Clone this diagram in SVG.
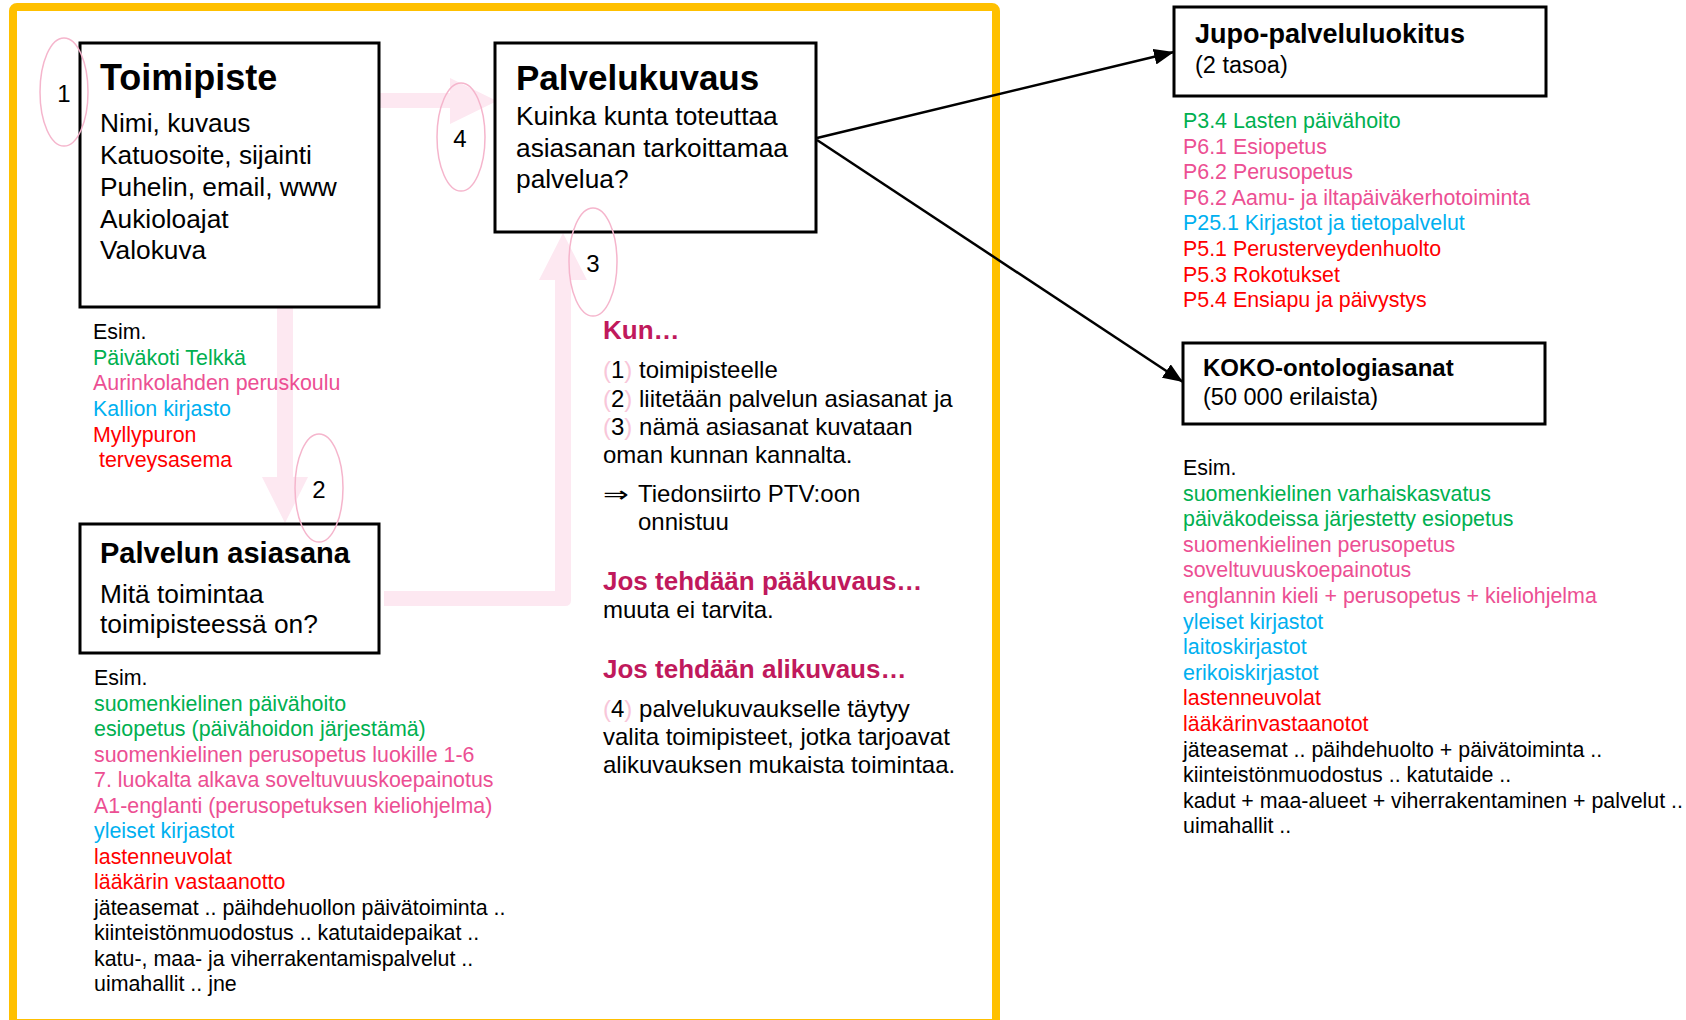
<svg xmlns="http://www.w3.org/2000/svg" width="1686" height="1020" viewBox="0 0 1686 1020">
<defs>
<marker id="ah" viewBox="0 0 10 10" refX="10" refY="5" markerWidth="20" markerHeight="16" markerUnits="userSpaceOnUse" orient="auto" preserveAspectRatio="none">
<path d="M0,0 L10,5 L0,10 Z" fill="#000"/>
</marker>
<style>
text{font-family:"Liberation Sans",Arial,sans-serif;fill:#000}
.box{fill:#fff;stroke:#000;stroke-width:3}
.t36{font-size:36px;font-weight:bold}
.t26{font-size:26.3px}
.t24{font-size:24px}
.t21{font-size:21.4px}
.b26{font-size:26px;font-weight:bold;fill:#c0195c}
.num{font-size:24px;text-anchor:middle}
.ell{fill:none;stroke:#f5b5cc;stroke-width:1.5}
.pk{fill:#fde8f1}
.g{fill:#00b050}.p{fill:#ec4f93}.c{fill:#00b0f0}.r{fill:#ff0000}
.pp{fill:#f8c6d9}
.conn{stroke:#000;stroke-width:2.5;fill:none}
</style>
</defs>
<rect x="0" y="0" width="1686" height="1020" fill="#fff"/>
<rect x="13" y="7" width="983" height="1016" rx="4" fill="none" stroke="#ffc000" stroke-width="8"/>

<g id="flow-arrows">
<polygon class="pk" points="380,93 450,93 450,78 497,101 450,124 450,108 380,108"/>
<polygon class="pk" points="277,307 293,307 293,477 308,477 285,523 262,477 277,477"/>
<path class="pk" d="M384,591 H555 V280 H539 L563,233 L587,280 H571 V600 Q571,606 565,606 H384 Z"/>
</g>

<g id="connectors">
<line class="conn" x1="817" y1="138" x2="1174" y2="52" marker-end="url(#ah)"/>
<line class="conn" x1="817" y1="140" x2="1183" y2="382" marker-end="url(#ah)"/>
</g>

<g id="toimipiste">
<rect class="box" x="80" y="43" width="299" height="264"/>
<text class="t36" x="100" y="90">Toimipiste</text>
<text class="t26" x="100" y="132">Nimi, kuvaus</text>
<text class="t26" x="100" y="164">Katuosoite, sijainti</text>
<text class="t26" x="100" y="196">Puhelin, email, www</text>
<text class="t26" x="100" y="228">Aukioloajat</text>
<text class="t26" x="100" y="259">Valokuva</text>
</g>

<g id="toimipiste-esim">
<text class="t21" x="93" y="339">Esim.</text>
<text class="t21 g" x="93" y="365">Päiväkoti Telkkä</text>
<text class="t21 p" x="93" y="390">Aurinkolahden peruskoulu</text>
<text class="t21 c" x="93" y="416">Kallion kirjasto</text>
<text class="t21 r" x="93" y="442">Myllypuron</text>
<text class="t21 r" x="99" y="467">terveysasema</text>
</g>

<g id="palvelukuvaus">
<rect class="box" x="495" y="43" width="321" height="189"/>
<text class="t36" x="516" y="90" style="font-size:35px">Palvelukuvaus</text>
<text class="t26" x="516" y="125">Kuinka kunta toteuttaa</text>
<text class="t26" x="516" y="157">asiasanan tarkoittamaa</text>
<text class="t26" x="516" y="188">palvelua?</text>
</g>

<g id="palvelun-asiasana">
<rect class="box" x="80" y="524" width="299" height="129"/>
<text x="100" y="563" style="font-size:29px;font-weight:bold">Palvelun asiasana</text>
<text class="t26" x="100" y="603">Mitä toimintaa</text>
<text class="t26" x="100" y="633">toimipisteessä on?</text>
</g>

<g id="asiasana-esim">
<text class="t21" x="94" y="685">Esim.</text>
<text class="t21 g" x="94" y="711">suomenkielinen päivähoito</text>
<text class="t21 g" x="94" y="736">esiopetus (päivähoidon järjestämä)</text>
<text class="t21 p" x="94" y="762">suomenkielinen perusopetus luokille 1-6</text>
<text class="t21 p" x="94" y="787">7. luokalta alkava soveltuvuuskoepainotus</text>
<text class="t21 p" x="94" y="813">A1-englanti (perusopetuksen kieliohjelma)</text>
<text class="t21 c" x="94" y="838">yleiset kirjastot</text>
<text class="t21 r" x="94" y="864">lastenneuvolat</text>
<text class="t21 r" x="94" y="889">lääkärin vastaanotto</text>
<text class="t21" x="94" y="915">jäteasemat .. päihdehuollon päivätoiminta ..</text>
<text class="t21" x="94" y="940">kiinteistönmuodostus .. katutaidepaikat ..</text>
<text class="t21" x="94" y="966">katu-, maa- ja viherrakentamispalvelut ..</text>
<text class="t21" x="94" y="991">uimahallit .. jne</text>
</g>

<g id="markers">
<ellipse class="ell" cx="64" cy="92" rx="24" ry="54"/>
<text class="num" x="64" y="102">1</text>
<ellipse class="ell" cx="461" cy="137" rx="24" ry="54"/>
<text class="num" x="460" y="147">4</text>
<ellipse class="ell" cx="319" cy="488" rx="24" ry="54"/>
<text class="num" x="319" y="498">2</text>
<ellipse class="ell" cx="593" cy="262" rx="24" ry="54"/>
<text class="num" x="593" y="272">3</text>
</g>

<g id="explanation">
<text class="b26" x="603" y="339">Kun…</text>
<text class="t24" x="603" y="378"><tspan class="pp">(</tspan>1<tspan class="pp">)</tspan> toimipisteelle</text>
<text class="t24" x="603" y="407"><tspan class="pp">(</tspan>2<tspan class="pp">)</tspan> liitetään palvelun asiasanat ja</text>
<text class="t24" x="603" y="435"><tspan class="pp">(</tspan>3<tspan class="pp">)</tspan> nämä asiasanat kuvataan</text>
<text class="t24" x="603" y="463">oman kunnan kannalta.</text>
<text transform="translate(603,502) scale(1.4,1)" style="font-family:'DejaVu Sans',sans-serif;font-size:22px">⇒</text>
<text class="t24" x="638" y="502">Tiedonsiirto PTV:oon</text>
<text class="t24" x="638" y="530">onnistuu</text>
<text class="b26" x="603" y="590">Jos tehdään pääkuvaus…</text>
<text class="t24" x="603" y="618">muuta ei tarvita.</text>
<text class="b26" x="603" y="678">Jos tehdään alikuvaus…</text>
<text class="t24" x="603" y="717"><tspan class="pp">(</tspan>4<tspan class="pp">)</tspan> palvelukuvaukselle täytyy</text>
<text class="t24" x="603" y="745">valita toimipisteet, jotka tarjoavat</text>
<text class="t24" x="603" y="773">alikuvauksen mukaista toimintaa.</text>
</g>

<g id="jupo">
<rect class="box" x="1174" y="7" width="372" height="89"/>
<text x="1195" y="43" style="font-size:27px;font-weight:bold">Jupo-palveluluokitus</text>
<text x="1195" y="73" style="font-size:23.5px">(2 tasoa)</text>
</g>

<g id="jupo-list">
<text class="t21 g" x="1183" y="128">P3.4 Lasten päivähoito</text>
<text class="t21 p" x="1183" y="154">P6.1 Esiopetus</text>
<text class="t21 p" x="1183" y="179">P6.2 Perusopetus</text>
<text class="t21 p" x="1183" y="205">P6.2 Aamu- ja iltapäiväkerhotoiminta</text>
<text class="t21 c" x="1183" y="230">P25.1 Kirjastot ja tietopalvelut</text>
<text class="t21 r" x="1183" y="256">P5.1 Perusterveydenhuolto</text>
<text class="t21 r" x="1183" y="282">P5.3 Rokotukset</text>
<text class="t21 r" x="1183" y="307">P5.4 Ensiapu ja päivystys</text>
</g>

<g id="koko">
<rect class="box" x="1183" y="343" width="362" height="81"/>
<text x="1203" y="376" style="font-size:24px;font-weight:bold">KOKO-ontologiasanat</text>
<text x="1203" y="405" style="font-size:23.5px">(50 000 erilaista)</text>
</g>

<g id="koko-list">
<text class="t21" x="1183" y="475">Esim.</text>
<text class="t21 g" x="1183" y="501">suomenkielinen varhaiskasvatus</text>
<text class="t21 g" x="1183" y="526">päiväkodeissa järjestetty esiopetus</text>
<text class="t21 p" x="1183" y="552">suomenkielinen perusopetus</text>
<text class="t21 p" x="1183" y="577">soveltuvuuskoepainotus</text>
<text class="t21 p" x="1183" y="603">englannin kieli + perusopetus + kieliohjelma</text>
<text class="t21 c" x="1183" y="629">yleiset kirjastot</text>
<text class="t21 c" x="1183" y="654">laitoskirjastot</text>
<text class="t21 c" x="1183" y="680">erikoiskirjastot</text>
<text class="t21 r" x="1183" y="705">lastenneuvolat</text>
<text class="t21 r" x="1183" y="731">lääkärinvastaanotot</text>
<text class="t21" x="1183" y="757">jäteasemat .. päihdehuolto + päivätoiminta ..</text>
<text class="t21" x="1183" y="782">kiinteistönmuodostus .. katutaide ..</text>
<text class="t21" x="1183" y="808">kadut + maa-alueet + viherrakentaminen + palvelut ..</text>
<text class="t21" x="1183" y="833">uimahallit ..</text>
</g>
</svg>
